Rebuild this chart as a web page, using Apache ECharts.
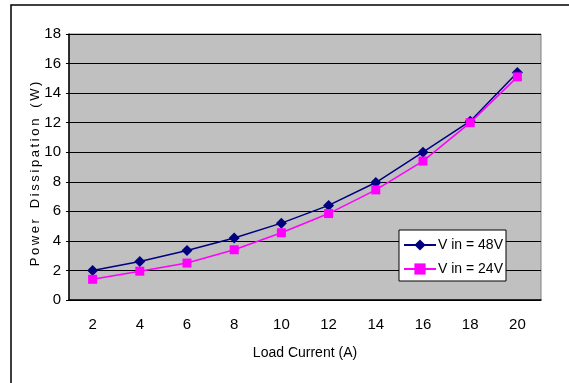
<!DOCTYPE html>
<html><head><meta charset="utf-8">
<script src="https://cdn.jsdelivr.net/npm/echarts@6/dist/echarts.min.js"></script>
<style>html,body{margin:0;padding:0;background:#fff}#c{width:569px;height:383px}</style>
</head><body><div id="c"></div>
<script>
const categories = ['2','4','6','8','10','12','14','16','18','20'];
const v48 = [2.0, 2.6, 3.35, 4.2, 5.2, 6.4, 7.95, 10.0, 12.1, 15.4];
const v24 = [1.4, 1.95, 2.5, 3.4, 4.55, 5.85, 7.45, 9.4, 12.0, 15.1];
const yTicks = {min: 0, max: 18, interval: 2};
const FONT = '"Liberation Sans", Arial, sans-serif';
const T = '\u2009';
const yName = ['Power', 'Dissipation', '(W)'].map(w => w.split('').join(T)).join('   ');
const chart = echarts.init(document.getElementById('c'));
chart.setOption({
  animation: false,
  textStyle: {fontFamily: FONT},
  graphic: [{type: 'rect', shape: {x: 11, y: 5, width: 600, height: 420}, style: {fill: 'none', stroke: '#000', lineWidth: 1.5}, silent: true, z: -10}],
  grid: {left: 69, top: 34, right: 28, bottom: 83, show: true, backgroundColor: '#C0C0C0', borderColor: '#808080', borderWidth: 1},
  legend: {
    orient: 'vertical', left: 399, top: 230, backgroundColor: '#fff', borderColor: '#000', borderWidth: 1,
    padding: [8, 3, 5, 4], itemGap: 10, itemWidth: 32, itemHeight: 14,
    textStyle: {fontFamily: FONT, fontSize: 14, color: '#000', padding: [0, 0, 0, -3]},
    data: ['V in = 48V', 'V in = 24V']
  },
  xAxis: {
    type: 'category', data: categories, boundaryGap: true,
    name: 'Load Current (A)', nameLocation: 'middle', nameGap: 46,
    nameTextStyle: {fontSize: 14, color: '#000'},
    axisLine: {lineStyle: {color: '#000', width: 1.5}},
    axisTick: {inside: true, length: 4, lineStyle: {color: '#000'}},
    axisLabel: {fontSize: 15, color: '#000', margin: 17},
    splitLine: {show: false}
  },
  yAxis: {
    type: 'value', min: yTicks.min, max: yTicks.max, interval: yTicks.interval,
    name: yName, nameLocation: 'middle', nameGap: 27, nameMoveOverlap: false,
    nameTextStyle: {fontSize: 13, color: '#000', padding: [0, 14, 0, 0]},
    axisLine: {show: true, lineStyle: {color: '#000', width: 1.5}},
    axisTick: {show: true, length: 3, lineStyle: {color: '#000'}},
    axisLabel: {fontSize: 15, color: '#000', margin: 8},
    splitLine: {lineStyle: {color: '#000', width: 1.2}}
  },
  series: [
    {name: 'V in = 48V', type: 'line', data: v48, symbol: 'diamond', symbolSize: 11,
     itemStyle: {color: '#000080'}, lineStyle: {color: '#000080', width: 1.5}, z: 3},
    {name: 'V in = 24V', type: 'line', data: v24, symbol: 'rect', symbolSize: 9,
     itemStyle: {color: '#FF00FF'}, lineStyle: {color: '#FF00FF', width: 1.5}, z: 4}
  ]
});
</script></body></html>
